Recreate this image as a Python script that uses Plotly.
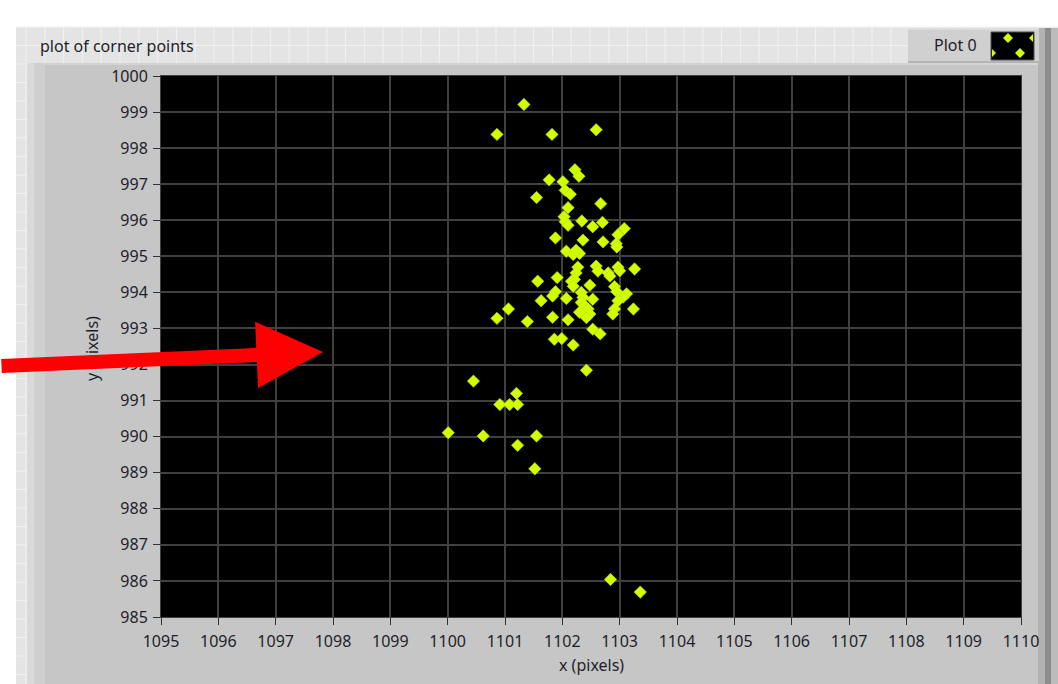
import plotly.graph_objects as go

# ---- data ----
x_px = [1101.33, 1100.86, 1101.82, 1102.59, 1102.22, 1102.29, 1101.77, 1102.01, 1102.05, 1102.14,
        1101.55, 1102.67, 1102.10, 1102.03, 1102.05, 1102.10, 1102.34, 1102.53, 1102.70, 1103.08,
        1102.97, 1102.94, 1102.95, 1101.88, 1102.36, 1102.71, 1102.07, 1102.19, 1102.30, 1102.24,
        1102.27, 1102.24, 1102.21, 1102.16, 1102.19, 1102.59, 1102.62, 1102.80, 1102.83, 1102.97,
        1103.00, 1103.26, 1101.57, 1101.91, 1102.48, 1102.91, 1102.95, 1103.12, 1103.06, 1102.97,
        1101.63, 1101.88, 1101.83, 1102.07, 1102.33, 1102.36, 1102.33, 1102.39, 1102.45, 1102.48,
        1102.42, 1102.53, 1102.30, 1102.91, 1102.88, 1103.24, 1101.83, 1102.10, 1102.53, 1102.66,
        1101.86, 1101.99, 1101.06, 1100.86, 1101.39, 1102.19, 1102.42, 1100.45, 1101.20, 1100.91,
        1101.08, 1101.22, 1100.01, 1100.62, 1101.55, 1101.22, 1101.52, 1102.84, 1103.36]
y_px = [999.21, 998.38, 998.38, 998.51, 997.40, 997.22, 997.12, 997.07, 996.83, 996.72,
        996.63, 996.46, 996.35, 996.10, 995.96, 995.86, 995.98, 995.82, 995.94, 995.77,
        995.60, 995.35, 995.26, 995.51, 995.45, 995.40, 995.14, 995.05, 995.08, 995.17,
        994.70, 994.54, 994.36, 994.31, 994.17, 994.73, 994.59, 994.54, 994.45, 994.70,
        994.60, 994.65, 994.31, 994.41, 994.20, 994.16, 994.02, 993.96, 993.87, 993.77,
        993.77, 994.02, 993.90, 993.83, 994.00, 993.86, 993.72, 993.63, 993.54, 993.40,
        993.30, 993.81, 993.45, 993.54, 993.40, 993.54, 993.31, 993.24, 992.98, 992.85,
        992.70, 992.72, 993.54, 993.28, 993.19, 992.54, 991.84, 991.54, 991.20, 990.89,
        990.89, 990.89, 990.11, 990.02, 990.02, 989.76, 989.11, 986.04, 985.69]
x_ticks = list(range(1095, 1111))
y_ticks = list(range(985, 1001))
series_name = "Plot 0"
chart_title = "plot of corner points"
x_title = "x (pixels)"
y_title = "y (pixels)"

# ---- page geometry ----
W, H = 1058, 684
L, R, T, B = 161, 1021, 76, 617


def px(x):
    return (x - L) / (R - L)


def py(y):
    return (B - y) / (B - T)


FONT = "Segoe UI, Noto Sans, sans-serif"
FS = 16
TXT = "#1e1e2a"
MARK = "#d2ff00"

shapes = []


def rect(x0, y0, x1, y1, fill, layer="below", line=None):
    shapes.append(dict(type="rect", xref="paper", yref="paper",
                       x0=px(x0), x1=px(x1), y0=py(y1), y1=py(y0),
                       fillcolor=fill, layer=layer,
                       line=dict(width=0) if line is None else line))


def hline(x0, x1, y, color, w=1, layer="below"):
    shapes.append(dict(type="line", xref="paper", yref="paper",
                       x0=px(x0), x1=px(x1), y0=py(y), y1=py(y),
                       line=dict(color=color, width=w), layer=layer))


def vline(x, y0, y1, color, w=1, layer="below"):
    shapes.append(dict(type="line", xref="paper", yref="paper",
                       x0=px(x), x1=px(x), y0=py(y0), y1=py(y1),
                       line=dict(color=color, width=w), layer=layer))


def poly(points, fill, layer="below"):
    d = "M " + " L ".join(f"{px(a):.5f},{py(b):.5f}" for a, b in points) + " Z"
    shapes.append(dict(type="path", xref="paper", yref="paper", path=d,
                       fillcolor=fill, line=dict(width=0), layer=layer))


# panel background with light grid
rect(16, 27, W, H, "#e4e4e4")
gx = 26.0
while gx < W:
    vline(gx, 27, H, "#f2f2f2")
    gx += 18.8
gy = 27.0
while gy < H:
    hline(16, W, gy, "#f2f2f2")
    gy += 18.5

# graph frame
rect(27, 63, 1040, H, "#c6c6c6")
rect(27, 63, 34, H, "#dadada")
rect(34, 63, 45, H, "#cfcfcf")
hline(45, 1040, 64, "#d4d4d4", 2)
# right bevel
rect(1038, 28, 1045, H, "#b2b2b2")
rect(1045, 28, 1051, H, "#8c8c8c")
rect(1051, 28, W, H, "#bcbcbc")
# legend box
rect(908, 28, 1039, 63, "#d0d0d0")
hline(908, 1039, 29, "#dedede", 2)
hline(908, 1039, 62, "#b4b4b4", 2)
rect(991, 32, 1034, 60, "#000000", line=dict(color="#505050", width=1))
poly([(1003, 38), (1008, 33), (1013, 38), (1008, 43)], MARK)
poly([(1015, 53), (1020, 48), (1025, 53), (1020, 58)], MARK)
poly([(1033, 34), (1029, 38), (1033, 42)], MARK)
poly([(992, 49), (996, 53), (992, 57)], MARK)
# plot background
rect(L, T, R, B, "#000000")

fig = go.Figure()
fig.add_trace(go.Scatter(
    x=x_px, y=y_px, mode="markers", name=series_name, showlegend=False,
    marker=dict(symbol="diamond", size=9.5, color=MARK,
                line=dict(color="#b8e000", width=0.6)),
))

axis_common = dict(
    showgrid=True, gridcolor="#404040", gridwidth=2,
    zeroline=False, showline=True, mirror=True, linecolor="#404040", linewidth=1,
    ticks="outside", ticklen=7, tickwidth=1, tickcolor="#303030",
    tickfont=dict(family=FONT, size=FS, color=TXT),
    fixedrange=True,
)
fig.update_xaxes(range=[x_ticks[0], x_ticks[-1]], tickvals=x_ticks,
                 ticktext=[str(v) for v in x_ticks], ticklabelstandoff=3, **axis_common)
fig.update_yaxes(range=[y_ticks[0], y_ticks[-1]], tickvals=y_ticks,
                 ticktext=[str(v) for v in y_ticks], ticklabelstandoff=2, **axis_common)

annotations = [
    dict(text=chart_title, x=px(38), y=py(46), xref="paper", yref="paper",
         xanchor="left", yanchor="middle", showarrow=False,
         font=dict(family=FONT, size=FS, color=TXT)),
    dict(text=series_name, x=px(955), y=py(45), xref="paper", yref="paper",
         xanchor="center", yanchor="middle", showarrow=False,
         font=dict(family=FONT, size=FS, color=TXT)),
    dict(text=x_title, x=px((L + R) / 2), y=py(665), xref="paper", yref="paper",
         xanchor="center", yanchor="middle", showarrow=False,
         font=dict(family=FONT, size=FS, color=TXT)),
    dict(text=y_title, x=px(92), y=py(349), xref="paper", yref="paper",
         xanchor="center", yanchor="middle", showarrow=False, textangle=-90,
         font=dict(family=FONT, size=FS, color=TXT)),
    # red pointer arrow drawn on top of the chart
    dict(text="", x=px(323), y=py(352), xref="paper", yref="paper",
         showarrow=True, arrowhead=2, arrowsize=0.95, arrowwidth=14,
         arrowcolor="#ff0000", ax=-335, ay=14, standoff=0),
]

fig.update_layout(
    width=W, height=H,
    margin=dict(l=L, r=W - R, t=T, b=H - B, pad=0),
    paper_bgcolor="#ffffff", plot_bgcolor="rgba(0,0,0,0)",
    shapes=shapes, annotations=annotations, showlegend=False,
    font=dict(family=FONT, size=FS, color=TXT),
)

fig.write_html("out.html")
